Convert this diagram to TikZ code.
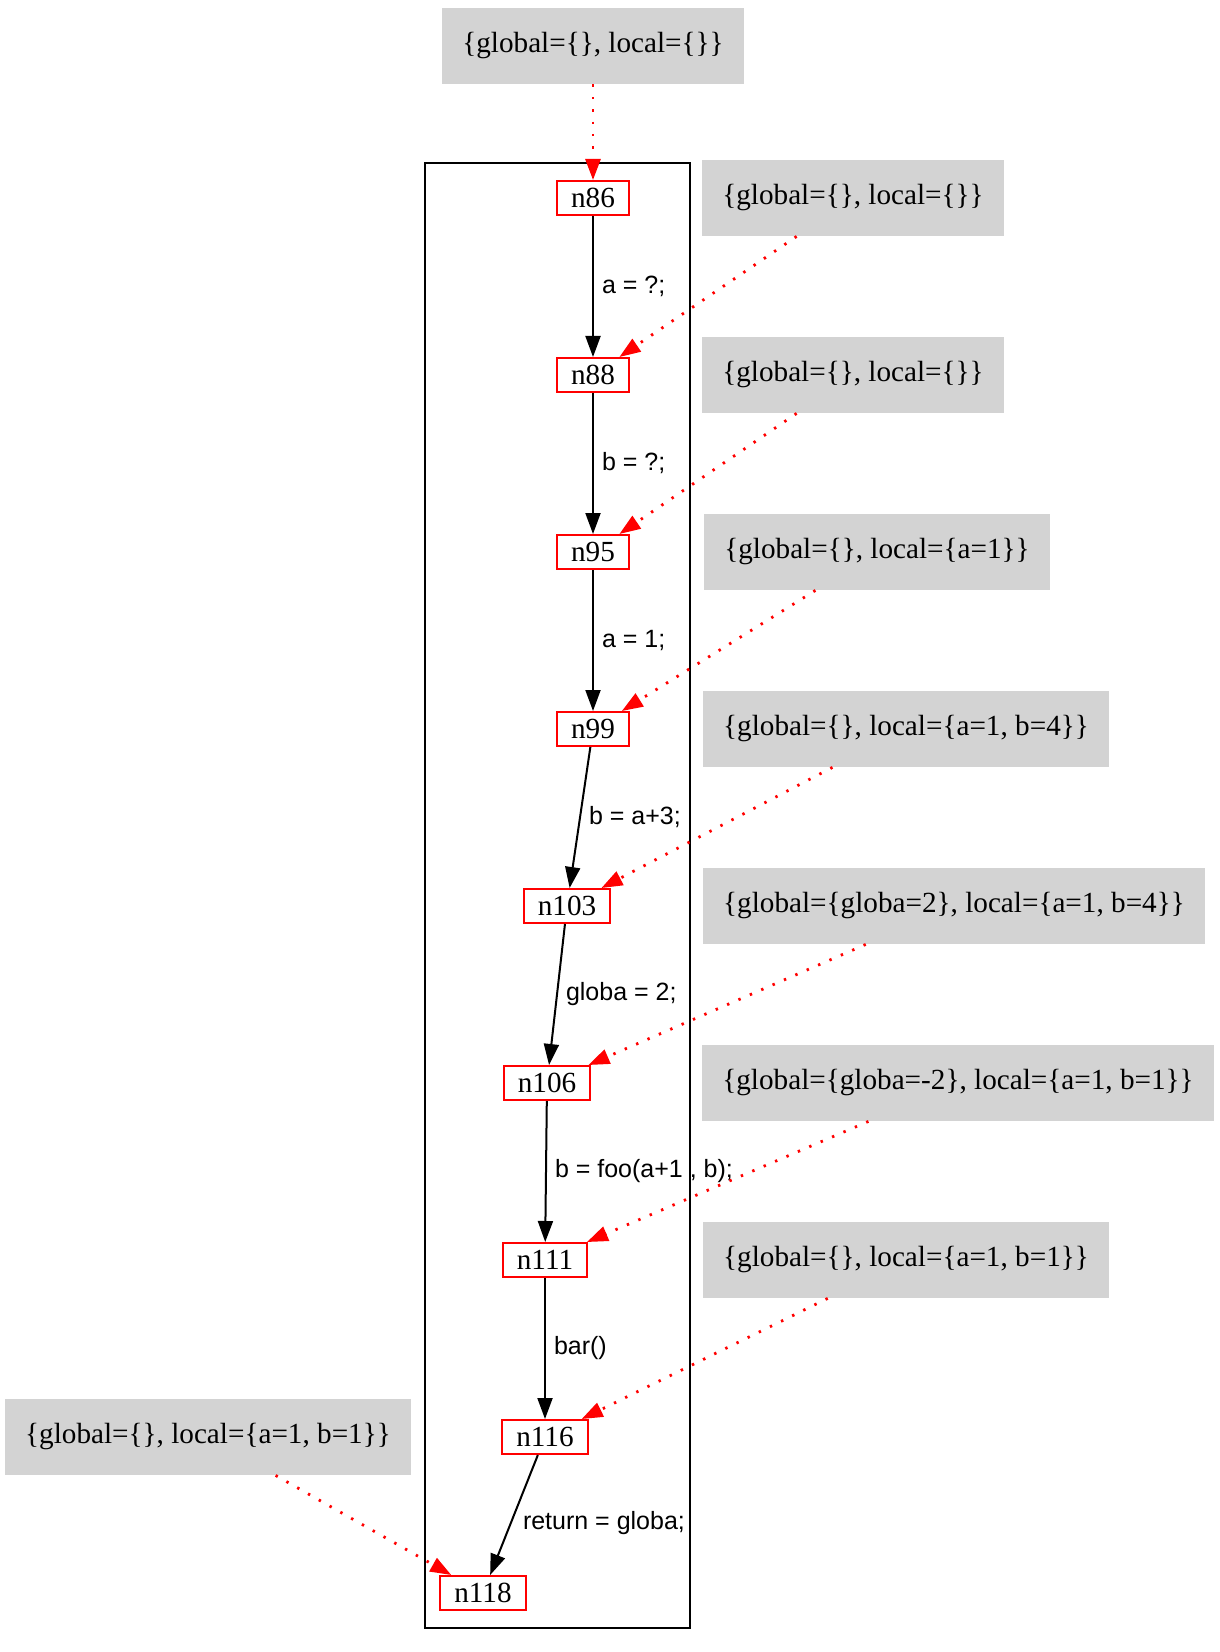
\documentclass[tikz,border=0pt]{standalone}
\usepackage{fontspec}
\setmainfont{Liberation Serif}
\setsansfont{Liberation Sans}
\usetikzlibrary{arrows.meta}
\definecolor{statebg}{HTML}{D3D3D3}

\begin{document}
\begin{tikzpicture}[
  x=0.5pt, y=-0.5pt,
  blk/.style={draw=red, line width=1pt, minimum height=17pt, inner xsep=7pt,
              inner ysep=0pt, font=\fontsize{14.6}{16}\selectfont},
  state/.style={fill=statebg, minimum height=38pt, inner xsep=10pt,
              font=\fontsize{14.6}{16}\selectfont},
  flow/.style={-{Triangle[length=10.5pt,width=7.5pt]}, line width=1pt},
  info/.style={-{Triangle[length=10.5pt,width=7.5pt]}, red, line width=1.4pt,
              dash pattern=on 1.2pt off 5pt},
  lbl/.style={anchor=west, inner sep=1pt, xshift=3pt,
              font=\sffamily\fontsize{12.5}{14}\selectfont}]
\useasboundingbox (0,0) rectangle (1219,1652);
% cluster of the function body
\draw[line width=1pt] (425,163) rectangle (690,1628);
% basic blocks
\node[blk] (n86)  at (593,198)  {n86};
\node[blk] (n88)  at (593,375)  {n88};
\node[blk] (n95)  at (593,552)  {n95};
\node[blk] (n99)  at (593,729)  {n99};
\node[blk] (n103) at (567,906)  {n103};
\node[blk] (n106) at (547,1083) {n106};
\node[blk] (n111) at (545,1260) {n111};
\node[blk] (n116) at (545,1437) {n116};
\node[blk] (n118) at (483,1593) {n118};
% abstract states
\node[state] (s0) at (593,46)   {\{global=\{\}, local=\{\}\}};
\node[state] (s1) at (853,198)  {\{global=\{\}, local=\{\}\}};
\node[state] (s2) at (853,375)  {\{global=\{\}, local=\{\}\}};
\node[state] (s3) at (877,552)  {\{global=\{\}, local=\{a=1\}\}};
\node[state] (s4) at (906,729)  {\{global=\{\}, local=\{a=1, b=4\}\}};
\node[state] (s5) at (954,906)  {\{global=\{globa=2\}, local=\{a=1, b=4\}\}};
\node[state] (s6) at (958,1083) {\{global=\{globa=-2\}, local=\{a=1, b=1\}\}};
\node[state] (s7) at (906,1260) {\{global=\{\}, local=\{a=1, b=1\}\}};
\node[state] (s8) at (208,1437) {\{global=\{\}, local=\{a=1, b=1\}\}};
% control flow
\draw[flow] (n86)  -- node[lbl]{a = ?;} (n88);
\draw[flow] (n88)  -- node[lbl]{b = ?;} (n95);
\draw[flow] (n95)  -- node[lbl]{a = 1;} (n99);
\draw[flow] (n99)  -- node[lbl]{b = a+3;} (n103);
\draw[flow] (n103) -- node[lbl]{globa = 2;} (n106);
\draw[flow] (n106) -- node[lbl]{b = foo(a+1 , b);} (n111);
\draw[flow] (n111) -- node[lbl]{bar()} (n116);
\draw[flow] (n116) -- node[lbl, yshift=-4pt]{return = globa;} (n118);
% states attached to blocks
\draw[info] (s0) -- (n86);
\draw[info] (s1) -- (n88);
\draw[info] (s2) -- (n95);
\draw[info] (s3) -- (n99);
\draw[info] (s4) -- (n103);
\draw[info] (s5) -- (n106);
\draw[info] (s6) -- (n111);
\draw[info] (s7) -- (n116);
\draw[info] (s8) -- (n118);
\end{tikzpicture}
\end{document}
